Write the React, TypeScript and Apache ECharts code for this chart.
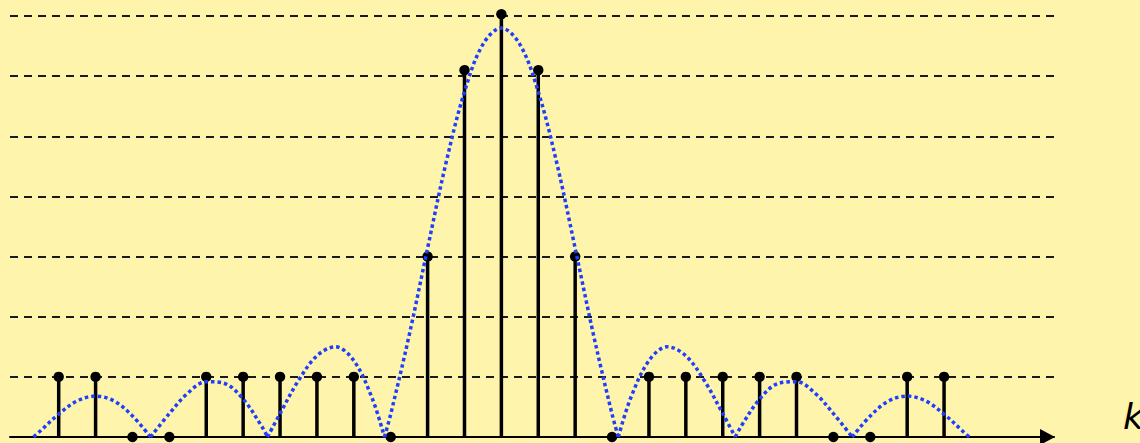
import React, { useEffect, useRef } from "react";
import * as echarts from "echarts";

const stemK = [-12, -11, -10, -9, -8, -7, -6, -5, -4, -3, -2, -1, 0, 1, 2, 3, 4, 5, 6, 7, 8, 9, 10, 11, 12];
const stemValues = [1, 1, 0, 0, 1, 1, 1, 1, 1, 0, 3, 6.1, 7.03, 6.1, 3, 0, 1, 1, 1, 1, 1, 0, 0, 1, 1];

// envelope readings; null marks a break (cusp at a zero)
const curveK = [
  -12.68, -12.5, -12, -11.5, -11, -10.5, -10, -9.51, null,
  -9.51, -9, -8.5, -8, -7.5, -7, -6.5, -6.34, null,
  -6.34, -6, -5.5, -5, -4.5, -4, -3.5, -3.17, null,
  -3.17, -3, -2.5, -2, -1.5, -1, -0.5, 0, 0.5, 1, 1.5, 2, 2.5, 3, 3.17, null,
  3.17, 3.5, 4, 4.5, 5, 5.5, 6, 6.34, null,
  6.34, 6.5, 7, 7.5, 8, 8.5, 9, 9.51, null,
  9.51, 10, 10.5, 11, 11.5, 12, 12.5, 12.68,
];
const curveV = [
  0, 0.1, 0.38, 0.6, 0.68, 0.6, 0.35, 0, null,
  0, 0.39, 0.73, 0.92, 0.89, 0.63, 0.18, 0, null,
  0, 0.39, 0.94, 1.35, 1.5, 1.27, 0.64, 0, null,
  0, 0.38, 1.69, 3.14, 4.56, 5.74, 6.53, 6.8, 6.53, 5.74, 4.56, 3.14, 1.69, 0.38, 0, null,
  0, 0.64, 1.27, 1.5, 1.35, 0.94, 0.39, 0, null,
  0, 0.18, 0.63, 0.89, 0.92, 0.73, 0.39, 0, null,
  0, 0.35, 0.6, 0.68, 0.6, 0.38, 0.1, 0,
];

const axisLabelText = "k";

export default function App() {
  const ref = useRef<HTMLDivElement>(null);
  useEffect(() => {
    if (!ref.current) return;
    const chart = echarts.init(ref.current, null, { renderer: "svg" });
    const curveData = curveK.map((k, i) =>
      k === null || curveV[i] === null ? ["-", "-"] : [k, curveV[i]]
    );
    const stemData = stemK.map((k, i) => [k, stemValues[i]]);
    chart.setOption({
      animation: false,
      backgroundColor: "#FFF4AB",
      grid: { left: 10, right: 86, top: 16, bottom: 6 },
      xAxis: {
        type: "value",
        min: -13.32,
        max: 14.98,
        axisLabel: { show: false },
        axisTick: { show: false },
        splitLine: { show: false },
        axisLine: {
          show: true,
          onZero: false,
          symbol: ["none", "triangle"],
          symbolSize: [16, 15],
          symbolOffset: [0, -6.5],
          lineStyle: { color: "#000", width: 2 },
        },
      },
      yAxis: {
        type: "value",
        min: 0,
        max: 7,
        interval: 1,
        axisLabel: { show: false },
        axisTick: { show: false },
        axisLine: { show: false },
        splitLine: {
          show: true,
          lineStyle: { color: "#1a1a1a", width: 2, type: [8, 6] },
        },
      },
      graphic: [
        {
          type: "text",
          left: 1123,
          top: 398,
          style: {
            text: axisLabelText,
            fontSize: 36,
            fontStyle: "italic",
            fontFamily: "DejaVu Sans",
            fill: "#000",
          },
        },
      ],
      series: [
        {
          type: "custom",
          data: stemData,
          z: 2,
          renderItem: (params: any, api: any) => {
            const k = api.value(0);
            const v = api.value(1);
            const p0 = api.coord([k, 0]);
            const p1 = api.coord([k, v]);
            return {
              type: "group",
              children: [
                {
                  type: "line",
                  shape: { x1: p0[0], y1: p0[1], x2: p1[0], y2: p1[1] },
                  style: { stroke: "#000", lineWidth: 3.5 },
                },
                {
                  type: "circle",
                  shape: { cx: p1[0], cy: p1[1], r: 5.2 },
                  style: { fill: "#000" },
                },
              ],
            };
          },
        },
        {
          type: "line",
          data: curveData,
          smooth: 0.35,
          connectNulls: false,
          showSymbol: false,
          z: 3,
          lineStyle: { color: "#1F3FFF", width: 3.5, type: [3.5, 3], cap: "butt" },
        },
      ],
    });
    return () => chart.dispose();
  }, []);
  return (
    <div
      ref={ref}
      style={{ position: "absolute", left: 0, top: 0, width: 1140, height: 443 }}
    />
  );
}
